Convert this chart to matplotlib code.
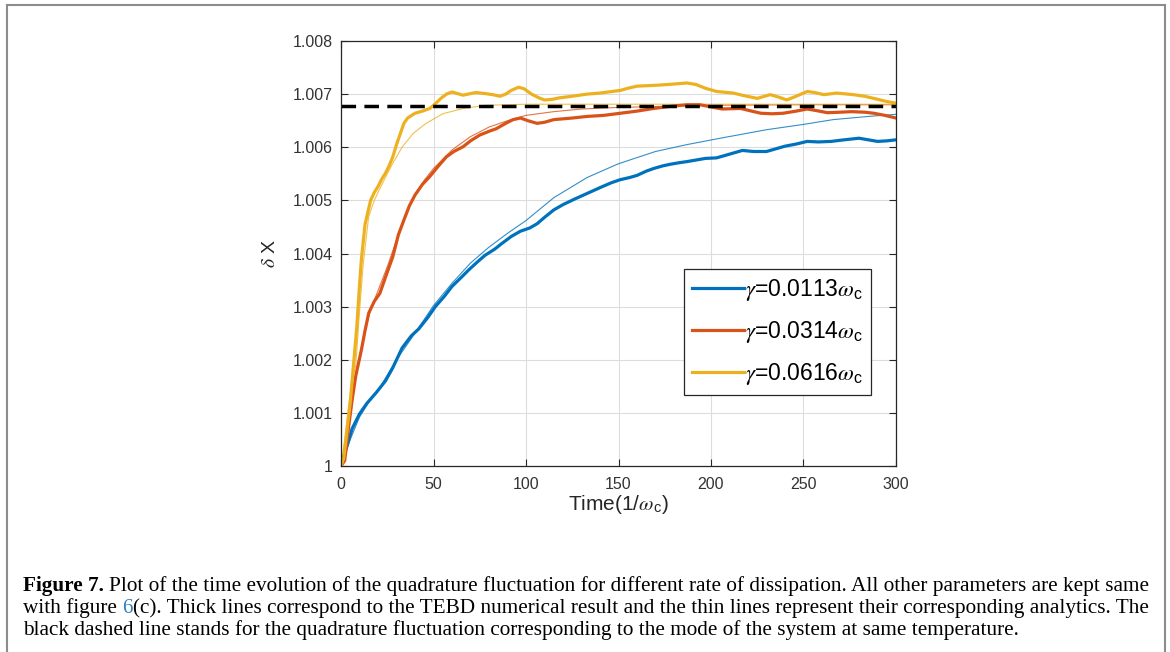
import matplotlib
matplotlib.use("Agg")
import matplotlib.pyplot as plt
from matplotlib.lines import Line2D
from matplotlib.ticker import FuncFormatter

# quadrature fluctuation, values stored as (deltaX - 1) * 1e3
t_blue = [0, 3, 6, 10, 14, 19, 24, 28, 33, 38, 42, 47, 51, 56, 60, 65, 69, 74, 78, 83,
          87, 92, 97, 102, 106, 110, 115, 120, 126, 133, 140, 146, 151, 156, 160, 165,
          169, 174, 178, 183, 187, 192, 197, 203, 208, 212, 217, 223, 230, 236, 240,
          246, 252, 258, 265, 272, 280, 285, 290, 295, 300]
v_blue = [0, 0.35, 0.7, 0.98, 1.18, 1.38, 1.6, 1.85, 2.22, 2.45, 2.58, 2.8, 3.0, 3.2,
          3.38, 3.55, 3.69, 3.85, 3.97, 4.08, 4.19, 4.32, 4.42, 4.48, 4.56, 4.68, 4.82,
          4.92, 5.02, 5.13, 5.24, 5.33, 5.39, 5.43, 5.47, 5.55, 5.6, 5.65, 5.68, 5.71,
          5.73, 5.76, 5.79, 5.8, 5.85, 5.89, 5.94, 5.92, 5.92, 5.98, 6.02, 6.06, 6.11,
          6.1, 6.11, 6.14, 6.17, 6.14, 6.11, 6.12, 6.14]
t_blue_an = [0, 5, 10, 15, 20, 30, 40, 50, 60, 70, 80, 90, 100, 115, 133, 150, 170, 187,
             205, 230, 250, 266, 285, 300]
v_blue_an = [0, 0.5, 0.92, 1.2, 1.42, 2.0, 2.5, 3.02, 3.44, 3.82, 4.12, 4.38, 4.62,
             5.05, 5.43, 5.69, 5.92, 6.05, 6.17, 6.33, 6.43, 6.52, 6.58, 6.62]

t_red = [0, 2, 4, 6, 8, 11, 13, 15, 18, 21, 24, 28, 31, 34, 37, 40, 44, 48, 52, 57, 61,
         66, 70, 75, 80, 84, 89, 93, 97, 101, 106, 110, 115, 125, 133, 142, 151, 160,
         169, 178, 187, 194, 200, 206, 216, 222, 227, 233, 239, 246, 252, 257, 263, 270,
         276, 283, 288, 294, 300]
v_red = [0, 0.1, 0.7, 1.24, 1.7, 2.18, 2.55, 2.88, 3.1, 3.25, 3.55, 3.94, 4.35, 4.63, 4.9,
         5.1, 5.3, 5.45, 5.62, 5.82, 5.92, 6.01, 6.12, 6.23, 6.3, 6.35, 6.45, 6.52, 6.55,
         6.5, 6.45, 6.47, 6.52, 6.55, 6.58, 6.6, 6.64, 6.68, 6.73, 6.77, 6.8, 6.8, 6.76,
         6.72, 6.73, 6.68, 6.64, 6.63, 6.64, 6.68, 6.72, 6.69, 6.65, 6.66, 6.67, 6.66,
         6.64, 6.6, 6.55]
t_red_an = [0, 4, 8, 12, 16, 20, 25, 30, 35, 40, 45, 50, 60, 70, 80, 90, 100, 115, 130,
            150, 175, 200, 250, 300]
v_red_an = [0, 0.7, 1.7, 2.4, 2.95, 3.3, 3.75, 4.25, 4.75, 5.1, 5.38, 5.6, 5.95, 6.2,
            6.38, 6.5, 6.6, 6.67, 6.72, 6.75, 6.77, 6.79, 6.8, 6.8]

t_yel = [0, 1.5, 3, 5, 7, 8.5, 10, 11, 13, 16, 18, 20, 22, 24, 26, 28, 30, 32, 34, 36,
         40, 44, 48, 51, 54, 57, 60, 63, 66, 70, 73, 78, 82, 86, 89, 92, 96, 99, 103,
         107, 110, 114, 118, 125, 133, 140, 151, 155, 160, 166, 172, 180, 187, 192, 197,
         203, 212, 218, 225, 232, 236, 241, 246, 252, 256, 261, 268, 277, 283, 288, 295,
         300]
v_yel = [0, 0.15, 0.6, 1.2, 2.0, 2.6, 3.4, 3.88, 4.55, 5.0, 5.15, 5.26, 5.4, 5.51, 5.65,
         5.82, 6.05, 6.25, 6.45, 6.55, 6.64, 6.68, 6.73, 6.82, 6.92, 7.0, 7.04, 7.01,
         6.98, 7.01, 7.03, 7.01, 6.99, 6.96, 7.0, 7.07, 7.13, 7.1, 7.0, 6.93, 6.89, 6.9,
         6.93, 6.96, 7.0, 7.02, 7.07, 7.11, 7.15, 7.16, 7.17, 7.19, 7.21, 7.18, 7.11,
         7.05, 7.02, 6.97, 6.92, 6.99, 6.95, 6.89, 6.96, 7.05, 7.03, 6.99, 7.02, 6.99,
         6.96, 6.92, 6.86, 6.83]
t_yel_an = [0, 2, 4, 6, 8, 10, 12, 15, 18, 21, 25, 28, 33, 39, 46, 55, 66, 78, 100, 150,
            300]
v_yel_an = [0, 0.5, 1.1, 1.6, 1.9, 2.9, 3.8, 4.7, 5.0, 5.22, 5.5, 5.7, 6.0, 6.26, 6.45,
            6.63, 6.73, 6.79, 6.81, 6.81, 6.81]

x_mode = 6.78  # dashed reference level
labels = [r'$\gamma$=0.0113$\omega_\mathregular{c}$',
          r'$\gamma$=0.0314$\omega_\mathregular{c}$',
          r'$\gamma$=0.0616$\omega_\mathregular{c}$']
xticks = [0, 50, 100, 150, 200, 250, 300]
yticks = [1.000, 1.001, 1.002, 1.003, 1.004, 1.005, 1.006, 1.007, 1.008]

caption1_bold = "Figure 7."
caption1 = ("Plot of the time evolution of the quadrature fluctuation for different rate "
            "of dissipation. All other parameters are kept same")
caption2a = "with figure "
caption2_link = "6"
caption2b = ("(c). Thick lines correspond to the TEBD numerical result and the thin lines "
             "represent their corresponding analytics. The")
caption3 = ("black dashed line stands for the quadrature fluctuation corresponding to the "
            "mode of the system at same temperature.")


def dx(v):
    return [1 + a * 1e-3 for a in v]


def main():
    plt.rcParams['font.family'] = ['Liberation Sans', 'DejaVu Sans']
    plt.rcParams['mathtext.fontset'] = 'stix'

    W, H = 1170, 652
    fig = plt.figure(figsize=(W / 100, H / 100), dpi=100)

    # grey frame around figure + caption
    frame = dict(color='#8c8c8c', lw=1.5, transform=fig.transFigure)
    fig.add_artist(Line2D([7 / W, 7 / W], [0, 1 - 5 / H], **frame))
    fig.add_artist(Line2D([7 / W, 1165 / W], [1 - 5 / H, 1 - 5 / H], **frame))
    fig.add_artist(Line2D([1165 / W, 1165 / W], [0, 1 - 5 / H], **frame))

    ax = fig.add_axes([341 / W, 1 - 466 / H, 555 / W, 425 / H])

    blue, red, yel = '#0072BD', '#D95319', '#EDB120'
    ax.plot(t_blue_an, dx(v_blue_an), color=blue, lw=0.8, alpha=0.8)
    ax.plot(t_red_an, dx(v_red_an), color=red, lw=0.8, alpha=0.8)
    ax.plot(t_yel_an, dx(v_yel_an), color=yel, lw=0.8, alpha=0.8)
    hb, = ax.plot(t_blue, dx(v_blue), color=blue, lw=2.3)
    hr, = ax.plot(t_red, dx(v_red), color=red, lw=2.3)
    hy, = ax.plot(t_yel, dx(v_yel), color=yel, lw=2.3)
    ax.axhline(1 + x_mode * 1e-3, color='black', lw=2.5, dashes=(4.2, 2.4))

    ax.set_xlim(0, 300)
    ax.set_ylim(1.0, 1.008)
    ax.set_xticks(xticks)
    ax.set_yticks(yticks)
    ax.yaxis.set_major_formatter(FuncFormatter(
        lambda v, p: ('%.3f' % v).rstrip('0').rstrip('.')))
    ax.tick_params(direction='in', top=True, right=True, length=5, width=0.8,
                   labelsize=11.5, color='#262626', labelcolor='#333333')
    ax.tick_params(axis='x', pad=8)
    ax.tick_params(axis='y', pad=6)
    for s in ax.spines.values():
        s.set_color('#262626')
        s.set_linewidth(0.9)
    ax.grid(True, color='#dddddd', lw=0.8)
    ax.set_axisbelow(True)

    ax.set_xlabel(r'Time(1/$\omega_\mathregular{c}$)', fontsize=15, color='#262626',
                  labelpad=1)
    ax.set_ylabel(r'$\delta$ X', fontsize=14, color='#262626', labelpad=10)

    leg = ax.legend([hb, hr, hy], labels, loc='upper left', bbox_to_anchor=(0.618, 0.464),
                    fontsize=16.5, fancybox=False, framealpha=1, edgecolor='#262626',
                    handlelength=2.25, handletextpad=0.05, labelspacing=0.7,
                    borderpad=0.35, borderaxespad=0)
    leg.get_frame().set_linewidth(0.9)

    # caption, laid out run by run
    renderer = fig.canvas.get_renderer()
    serif = ['Liberation Serif', 'DejaVu Serif']

    def width(s, size, weight='normal'):
        t = fig.text(0, 0, s, fontsize=size, family=serif, weight=weight)
        w = t.get_window_extent(renderer).width
        t.remove()
        return w

    base = 12.0
    sp = width('x x', base) - width('xx', base)
    w1 = width(caption1_bold, base, 'bold') + sp + width(caption1, base)
    size = 0.994 * base * (1150 - 23) / w1
    sp = width('x x', size) - width('xx', size)

    def put(x, y, s, weight='normal', color='black'):
        fig.text(x / W, 1 - y / H, s, fontsize=size, family=serif, weight=weight,
                 color=color, va='baseline', ha='left')
        return x + width(s, size, weight)

    x0 = 23
    x = put(x0, 591, caption1_bold, weight='bold')
    put(x + sp, 591, caption1)
    x = put(x0, 613, caption2a.rstrip()) + sp
    x = put(x, 613, caption2_link, color='#2f7fc1')
    put(x, 613, caption2b)
    put(x0, 635, caption3)

    fig.savefig('out.png', dpi=100)


if __name__ == '__main__':
    main()
